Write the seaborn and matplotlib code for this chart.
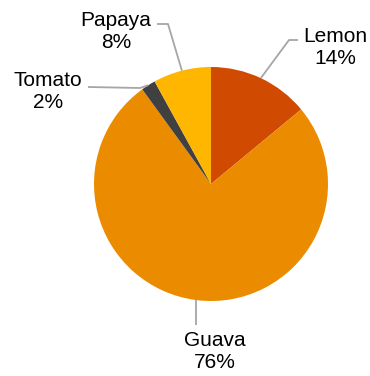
import numpy as np
import matplotlib
matplotlib.use("Agg")
import matplotlib.pyplot as plt
import seaborn as sns

sns.set_theme(style="white")
plt.rcParams["font.family"] = ["Liberation Sans", "DejaVu Sans"]

# Fruit shares (percent), clockwise from 12 o'clock
fruits = ["Lemon", "Guava", "Tomato", "Papaya"]
shares = [14, 76, 2, 8]
colors = ["#D04A02", "#EB8C00", "#404040", "#FFB600"]

W, H = 370, 376
fig = plt.figure(figsize=(W / 100, H / 100), dpi=100)
ax = fig.add_axes([0, 0, 1, 1])

cx, cy, r = 211, 192, 117
wedges, _ = ax.pie(shares, colors=colors, startangle=90, counterclock=False,
                   center=(cx, cy), radius=r, frame=True,
                   wedgeprops=dict(linewidth=0))
ax.set_xlim(0, W)
ax.set_ylim(0, H)
ax.set_aspect("equal")
ax.axis("off")

# label placement: (elbow point, end point, text centre)
layout = {
    "Lemon":  ((289, 336), (298, 336), (335, 328)),
    "Guava":  (None, (None, 51), (215, 24)),
    "Tomato": ((140, 288), (88, 289), (48, 284)),
    "Papaya": ((168, 352), (157, 352), (116, 345)),
}

total = sum(shares)
for w, name, val in zip(wedges, fruits, shares):
    ang = np.deg2rad((w.theta1 + w.theta2) / 2)
    rx, ry = cx + r * np.cos(ang), cy + r * np.sin(ang)
    elbow, end, txt = layout[name]
    if end[0] is None:
        end = (rx, end[1])
    pts = [(rx, ry)] + ([elbow] if elbow else []) + [end]
    xs, ys = zip(*pts)
    ax.plot(xs, ys, color="#A6A6A6", lw=1.3, solid_capstyle="butt", zorder=1)
    ax.text(txt[0], txt[1], f"{name}\n{round(100 * val / total)}%",
            ha="center", va="center", fontsize=15, color="black",
            linespacing=1.2, multialignment="center")

fig.savefig("out.png", dpi=100)
